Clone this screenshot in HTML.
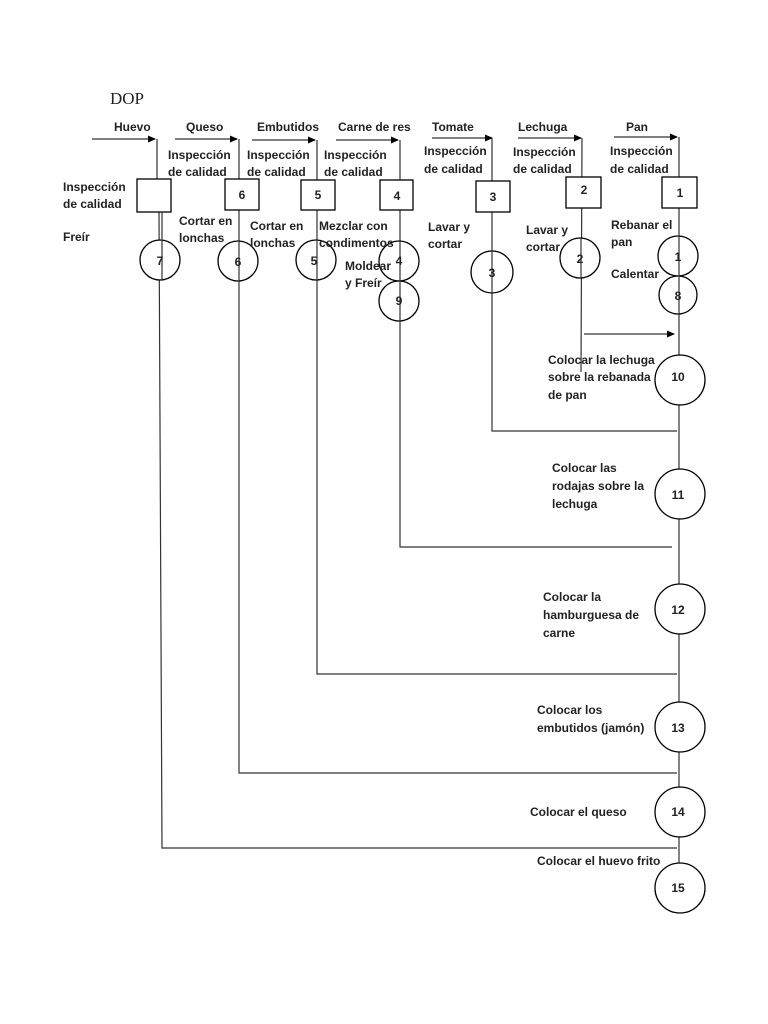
<!DOCTYPE html>
<html><head><meta charset="utf-8"><style>
html,body{margin:0;padding:0;background:#fff}
svg{display:block}
text{font-family:"Liberation Sans",sans-serif;font-size:12px;font-weight:bold;fill:#222}
</style></head><body>
<svg width="768" height="1024" viewBox="0 0 768 1024" xmlns="http://www.w3.org/2000/svg">
<defs><marker id="a" markerWidth="8" markerHeight="8" refX="7" refY="4" orient="auto" markerUnits="userSpaceOnUse"><path d="M0,0.5 L8,4 L0,7.5z" fill="#000"/></marker></defs>
<g stroke="#333" stroke-width="1.2" fill="none">
<!-- top input arrows -->
<line x1="92" y1="139" x2="155" y2="139" marker-end="url(#a)"/>
<line x1="175" y1="139" x2="237" y2="139" marker-end="url(#a)"/>
<line x1="252" y1="140" x2="315" y2="140" marker-end="url(#a)"/>
<line x1="336" y1="140" x2="398" y2="140" marker-end="url(#a)"/>
<line x1="432" y1="138" x2="492" y2="138" marker-end="url(#a)"/>
<line x1="518" y1="138" x2="581" y2="138" marker-end="url(#a)"/>
<line x1="614" y1="137" x2="677" y2="137" marker-end="url(#a)"/>
<!-- verticals -->
<polyline points="157,139 157,212"/>
<polyline points="159,212 162,848 677,848" />
<polyline points="239,139 239,773 677,773"/>
<polyline points="317,140 317,674 677,674"/>
<polyline points="400,140 400,547 672,547"/>
<polyline points="492,138 492,431 677,431"/>
<polyline points="582,138 581,372"/>
<line x1="584" y1="334" x2="674" y2="334" marker-end="url(#a)"/>
<line x1="679" y1="137" x2="679" y2="870"/>
</g>
<g stroke="#000" stroke-width="1.3" fill="#fff">
<rect x="137" y="179" width="34" height="33"/>
<rect x="225" y="179" width="34" height="31"/>
<rect x="301" y="180" width="34" height="30"/>
<rect x="380" y="180" width="33" height="30"/>
<rect x="476" y="181" width="34" height="31"/>
<rect x="566" y="177" width="35" height="31"/>
<rect x="662" y="177" width="35" height="31"/>
<circle cx="160" cy="260" r="20"/>
<circle cx="238" cy="261" r="20"/>
<circle cx="316" cy="260" r="20"/>
<circle cx="399" cy="261" r="20"/>
<circle cx="399" cy="301" r="20"/>
<circle cx="492" cy="272" r="21"/>
<circle cx="580" cy="258" r="20"/>
<circle cx="678" cy="256" r="20"/>
<circle cx="678" cy="295" r="19"/>
<circle cx="680" cy="380" r="25"/>
<circle cx="680" cy="494" r="25"/>
<circle cx="680" cy="609" r="25"/>
<circle cx="680" cy="727" r="25"/>
<circle cx="680" cy="812" r="25"/>
<circle cx="680" cy="888" r="25"/>
</g>
<g stroke="#333" stroke-width="1.2">
<line x1="162" y1="212" x2="162" y2="280"/><line x1="239" y1="241" x2="239" y2="281"/>
<line x1="317" y1="240" x2="317" y2="280"/><line x1="400" y1="241" x2="400" y2="321"/>
<line x1="492" y1="251" x2="492" y2="293"/><line x1="581" y1="238" x2="581" y2="278"/>
<line x1="679" y1="236" x2="679" y2="314"/>
</g>
<text x="110" y="104" style="font-family:'Liberation Serif',serif;font-size:17px;font-weight:normal">DOP</text>
<text x="114" y="131">Huevo</text><text x="186" y="131">Queso</text><text x="257" y="131">Embutidos</text>
<text x="338" y="131">Carne de res</text><text x="432" y="131">Tomate</text><text x="518" y="131">Lechuga</text><text x="626" y="131">Pan</text>
<text x="168" y="159">Inspección</text><text x="168" y="176">de calidad</text>
<text x="247" y="159">Inspección</text><text x="247" y="176">de calidad</text>
<text x="324" y="159">Inspección</text><text x="324" y="176">de calidad</text>
<text x="424" y="155">Inspección</text><text x="424" y="173">de calidad</text>
<text x="513" y="156">Inspección</text><text x="513" y="173">de calidad</text>
<text x="610" y="155">Inspección</text><text x="610" y="173">de calidad</text>
<text x="63" y="191">Inspección</text><text x="63" y="208">de calidad</text>
<text x="63" y="241">Freír</text>
<text x="179" y="225">Cortar en</text><text x="179" y="242">lonchas</text>
<text x="250" y="230">Cortar en</text><text x="250" y="247">lonchas</text>
<text x="319" y="230">Mezclar con</text><text x="319" y="247">condimentos</text>
<text x="345" y="270">Moldear</text><text x="345" y="287">y Freír</text>
<text x="428" y="231">Lavar y</text><text x="428" y="248">cortar</text>
<text x="526" y="234">Lavar y</text><text x="526" y="251">cortar</text>
<text x="611" y="229">Rebanar el</text><text x="611" y="246">pan</text>
<text x="611" y="278">Calentar</text>
<text x="548" y="364">Colocar la lechuga</text><text x="548" y="381">sobre la rebanada</text><text x="548" y="399">de pan</text>
<text x="552" y="472">Colocar las</text><text x="552" y="490">rodajas sobre la</text><text x="552" y="508">lechuga</text>
<text x="543" y="601">Colocar la</text><text x="543" y="619">hamburguesa de</text><text x="543" y="637">carne</text>
<text x="537" y="714">Colocar los</text><text x="537" y="732">embutidos (jamón)</text>
<text x="530" y="816">Colocar el queso</text>
<text x="537" y="865">Colocar el huevo frito</text>
<g style="text-anchor:middle">
<text x="242" y="199">6</text><text x="318" y="199">5</text><text x="397" y="200">4</text><text x="493" y="201">3</text><text x="584" y="194">2</text><text x="680" y="197">1</text>
<text x="160" y="265">7</text><text x="238" y="266">6</text><text x="314" y="265">5</text><text x="399" y="265">4</text><text x="399" y="305">9</text>
<text x="492" y="277">3</text><text x="580" y="263">2</text><text x="678" y="261">1</text><text x="678" y="300">8</text>
<text x="678" y="381">10</text><text x="678" y="499">11</text><text x="678" y="614">12</text><text x="678" y="732">13</text><text x="678" y="816">14</text><text x="678" y="892">15</text>
</g>
</svg>
</body></html>
